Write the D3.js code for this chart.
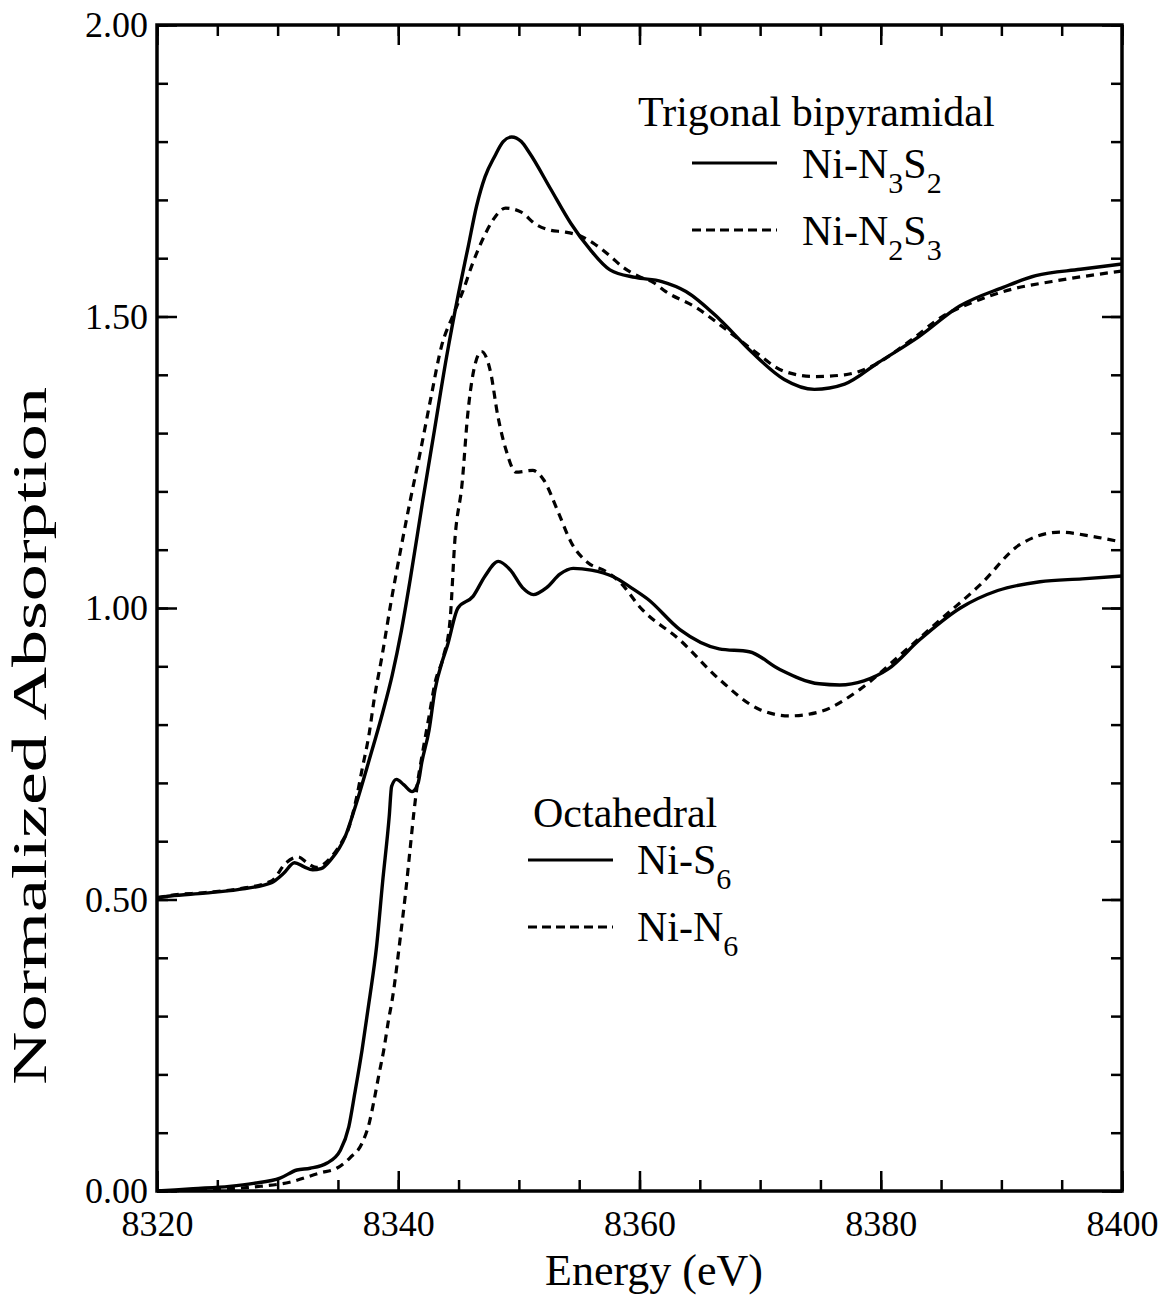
<!DOCTYPE html>
<html><head><meta charset="utf-8">
<script src="https://cdn.jsdelivr.net/npm/d3@7"></script>
<style>
body{margin:0;background:#fff}
svg{display:block}
text{font-family:"Liberation Serif","Times New Roman",serif;fill:#000}
</style>
</head><body>
<svg id="c" width="1170" height="1296"></svg>
<script>
// ---------- data ----------
const xTickValues = [8320, 8340, 8360, 8380, 8400];
const xTickLabels = ["8320", "8340", "8360", "8380", "8400"];
const yTickValues = [0, 0.5, 1.0, 1.5, 2.0];
const yTickLabels = ["0.00", "0.50", "1.00", "1.50", "2.00"];

// Trigonal bipyramidal, Ni-N3S2 (solid)
const eN3S2 = [8320, 8321.1, 8324, 8326.7, 8329.5, 8330.5, 8331.4, 8332.2, 8332.9, 8333.6, 8334.4, 8335.6, 8336.45, 8337.6, 8338.7, 8339.5, 8340.25, 8341, 8342, 8343, 8344, 8345, 8345.8, 8346.5, 8347.2, 8348, 8348.7, 8349.4, 8350.2, 8350.9, 8352.6, 8354.3, 8355.9, 8357.55, 8359.65, 8361.85, 8363.85, 8366.65, 8369.3, 8372, 8374.5, 8377, 8379.8, 8383.2, 8386.55, 8390.15, 8392.85, 8396.55, 8400];
const vN3S2 = [0.503, 0.506, 0.511, 0.517, 0.529, 0.545, 0.563, 0.556, 0.551, 0.553, 0.568, 0.608, 0.66, 0.74, 0.82, 0.885, 0.96, 1.05, 1.18, 1.305, 1.43, 1.54, 1.62, 1.69, 1.74, 1.775, 1.80, 1.808, 1.80, 1.78, 1.72, 1.66, 1.615, 1.58, 1.567, 1.56, 1.543, 1.495, 1.439, 1.392, 1.375, 1.384, 1.421, 1.466, 1.518, 1.55, 1.57, 1.581, 1.59];

// Trigonal bipyramidal, Ni-N2S3 (dashed)
const eN2S3 = [8320, 8321.1, 8324, 8326.7, 8329.5, 8330.7, 8331.7, 8332.5, 8333.2, 8334.4, 8335.3, 8335.85, 8336.45, 8337, 8337.6, 8338, 8338.65, 8339.4, 8340.2, 8341, 8341.85, 8342.7, 8343.6, 8344.5, 8345.35, 8346.2, 8347.2, 8347.9, 8348.9, 8350.2, 8351.4, 8352.6, 8353.8, 8355.1, 8356.3, 8357.6, 8358.6, 8359.9, 8361.1, 8362.15, 8364.65, 8366.85, 8369.3, 8372, 8374.5, 8377, 8379.3, 8382.6, 8385.1, 8387.6, 8390.9, 8394.2, 8396.9, 8400];
const vN2S3 = [0.503, 0.507, 0.512, 0.518, 0.532, 0.563, 0.573, 0.562, 0.555, 0.572, 0.598, 0.62, 0.666, 0.723, 0.786, 0.843, 0.917, 1.01, 1.10, 1.185, 1.27, 1.36, 1.45, 1.50, 1.543, 1.593, 1.641, 1.667, 1.686, 1.679, 1.658, 1.648, 1.645, 1.638, 1.624, 1.603, 1.585, 1.569, 1.559, 1.543, 1.516, 1.483, 1.444, 1.406, 1.397, 1.40, 1.415, 1.461, 1.50, 1.524, 1.547, 1.56, 1.569, 1.578];

// Octahedral, Ni-S6 (solid)
const eS6 = [8320, 8323, 8326, 8328, 8330.2, 8331.6, 8332.7, 8334.1, 8335.2, 8335.9, 8336.4, 8337, 8337.6, 8338.2, 8338.7, 8339.25, 8339.45, 8339.85, 8340.45, 8341.15, 8341.65, 8341.95, 8342.55, 8343.05, 8343.7, 8344.05, 8344.95, 8346.2, 8347.2, 8348.3, 8349.3, 8350.3, 8351.2, 8352.3, 8353.4, 8354.5, 8356, 8357.8, 8359.3, 8360.7, 8363.35, 8366.6, 8369.1, 8371.6, 8374.9, 8376.6, 8378.6, 8380.6, 8383.2, 8386.6, 8389.7, 8393.2, 8396.7, 8400];
const vS6 = [0.0, 0.004, 0.008, 0.013, 0.022, 0.036, 0.039, 0.048, 0.07, 0.11, 0.168, 0.242, 0.327, 0.419, 0.529, 0.642, 0.694, 0.706, 0.697, 0.685, 0.70, 0.735, 0.79, 0.86, 0.912, 0.934, 1.00, 1.02, 1.055, 1.08, 1.065, 1.035, 1.023, 1.035, 1.058, 1.068, 1.065, 1.054, 1.035, 1.015, 0.963, 0.93, 0.925, 0.895, 0.87, 0.868, 0.875, 0.895, 0.945, 1.0, 1.03, 1.045, 1.05, 1.055];

// Octahedral, Ni-N6 (dashed)
const eN6 = [8320, 8324, 8328, 8331, 8333.5, 8334.9, 8336, 8337, 8337.6, 8338, 8338.4, 8338.8, 8339.2, 8339.5, 8340.2, 8340.6, 8341, 8341.3, 8341.6, 8342, 8342.55, 8343.05, 8343.75, 8344.3, 8344.7, 8345.3, 8345.75, 8346.65, 8346.9, 8347.65, 8348.25, 8348.95, 8349.75, 8351.15, 8352.05, 8353.25, 8354.35, 8355.7, 8357.2, 8358.4, 8360.1, 8363.35, 8366.65, 8369.95, 8372.45, 8374.95, 8378.25, 8381.65, 8384.95, 8388.25, 8391.55, 8394.85, 8397.5, 8400];
const vN6 = [0.0, 0.002, 0.007, 0.015, 0.031, 0.039, 0.057, 0.082, 0.117, 0.156, 0.2, 0.242, 0.294, 0.328, 0.44, 0.51, 0.59, 0.65, 0.70, 0.75, 0.814, 0.872, 0.917, 0.98, 1.118, 1.215, 1.33, 1.435, 1.44, 1.405, 1.33, 1.27, 1.233, 1.236, 1.22, 1.165, 1.112, 1.078, 1.063, 1.044, 1.0, 0.945, 0.877, 0.826, 0.815, 0.822, 0.86, 0.92, 0.98, 1.04, 1.109, 1.13, 1.123, 1.113];

// ---------- layout ----------
const svg = d3.select("#c");
const L = 157, R = 1122, T = 25, B = 1191;
const x = d3.scaleLinear().domain([8320, 8400]).range([L, R]);
const y = d3.scaleLinear().domain([0, 2]).range([B, T]);

const minorX = d3.range(8320, 8400.001, 5);
const minorY = d3.range(0, 2.0001, 0.1);

function styleAxis(g) {
  g.select(".domain").remove();
  g.selectAll("line").attr("stroke", "#000").attr("stroke-width", 2.5);
}

// minor ticks (inward on all four sides)
svg.append("g").attr("transform", `translate(0,${B})`)
  .call(d3.axisBottom(x).tickValues(minorX).tickSize(-11).tickSizeOuter(0).tickFormat(""))
  .call(styleAxis);
svg.append("g").attr("transform", `translate(0,${T})`)
  .call(d3.axisTop(x).tickValues(minorX).tickSize(-11).tickSizeOuter(0).tickFormat(""))
  .call(styleAxis);
svg.append("g").attr("transform", `translate(${L},0)`)
  .call(d3.axisLeft(y).tickValues(minorY).tickSize(-11).tickSizeOuter(0).tickFormat(""))
  .call(styleAxis);
svg.append("g").attr("transform", `translate(${R},0)`)
  .call(d3.axisRight(y).tickValues(minorY).tickSize(-11).tickSizeOuter(0).tickFormat(""))
  .call(styleAxis);

// major ticks with labels
const gx = svg.append("g").attr("transform", `translate(0,${B})`)
  .call(d3.axisBottom(x).tickValues(xTickValues).tickSize(-20).tickSizeOuter(0).tickPadding(45)
    .tickFormat((d, i) => xTickLabels[i]))
  .call(styleAxis);
gx.selectAll("text").attr("font-size", 36).attr("font-family", "Liberation Serif").attr("fill", "#000").attr("dy", 0);
svg.append("g").attr("transform", `translate(0,${T})`)
  .call(d3.axisTop(x).tickValues(xTickValues).tickSize(-20).tickSizeOuter(0).tickFormat(""))
  .call(styleAxis);
const gy = svg.append("g").attr("transform", `translate(${L},0)`)
  .call(d3.axisLeft(y).tickValues(yTickValues).tickSize(-20).tickSizeOuter(0).tickPadding(9)
    .tickFormat((d, i) => yTickLabels[i]))
  .call(styleAxis);
gy.selectAll("text").attr("font-size", 36).attr("font-family", "Liberation Serif").attr("fill", "#000");
svg.append("g").attr("transform", `translate(${R},0)`)
  .call(d3.axisRight(y).tickValues(yTickValues).tickSize(-20).tickSizeOuter(0).tickFormat(""))
  .call(styleAxis);

// frame
svg.append("rect").attr("x", L).attr("y", T).attr("width", R - L).attr("height", B - T)
  .attr("fill", "none").attr("stroke", "#000").attr("stroke-width", 3.5);

// curves
const line = d3.line().x(d => x(d[0])).y(d => y(d[1])).curve(d3.curveMonotoneX);
const series = [
  {e: eN3S2, v: vN3S2, dash: null},
  {e: eN2S3, v: vN2S3, dash: "8,6"},
  {e: eS6, v: vS6, dash: null},
  {e: eN6, v: vN6, dash: "8,6"}
];
series.forEach(s => {
  svg.append("path")
    .datum(s.e.map((e, i) => [e, s.v[i]]))
    .attr("d", line)
    .attr("fill", "none").attr("stroke", "#000")
    .attr("stroke-width", s.dash ? 3.2 : 3.4)
    .attr("stroke-dasharray", s.dash)
    .attr("stroke-linejoin", "round");
});

// axis titles
svg.append("text").attr("x", 654).attr("y", 1285).attr("text-anchor", "middle")
  .attr("font-size", 44).text("Energy (eV)");
svg.append("text").attr("transform", "translate(46,736) rotate(-90)").attr("text-anchor", "middle")
  .attr("font-size", 48).attr("textLength", 698).attr("lengthAdjust", "spacingAndGlyphs")
  .text("Normalized Absorption");

// legends
const fs = 42, sub = 30, shift = 15;
function legendText(xp, yp, parts) {
  const t = svg.append("text").attr("x", xp).attr("y", yp).attr("font-size", fs);
  let down = false;
  parts.forEach(p => {
    const ts = t.append("tspan").text(p.t);
    if (p.sub) {
      ts.attr("font-size", sub).attr("dy", down ? 0 : shift);
      down = true;
    } else {
      if (down) ts.attr("dy", -shift);
      down = false;
    }
  });
}
function legendLine(x1, x2, yy, dash) {
  svg.append("line").attr("x1", x1).attr("x2", x2).attr("y1", yy).attr("y2", yy)
    .attr("stroke", "#000").attr("stroke-width", 3).attr("stroke-dasharray", dash);
}
svg.append("text").attr("x", 638).attr("y", 126).attr("font-size", fs).text("Trigonal bipyramidal");
legendLine(692, 777, 163, null);
legendText(802, 178, [{t: "Ni-N"}, {t: "3", sub: true}, {t: "S"}, {t: "2", sub: true}]);
legendLine(692, 777, 230, "9,5");
legendText(802, 245, [{t: "Ni-N"}, {t: "2", sub: true}, {t: "S"}, {t: "3", sub: true}]);

svg.append("text").attr("x", 533).attr("y", 827).attr("font-size", fs).text("Octahedral");
legendLine(528, 613, 860, null);
legendText(637, 874, [{t: "Ni-S"}, {t: "6", sub: true}]);
legendLine(528, 613, 927, "9,5");
legendText(637, 941, [{t: "Ni-N"}, {t: "6", sub: true}]);
</script>
</body></html>
